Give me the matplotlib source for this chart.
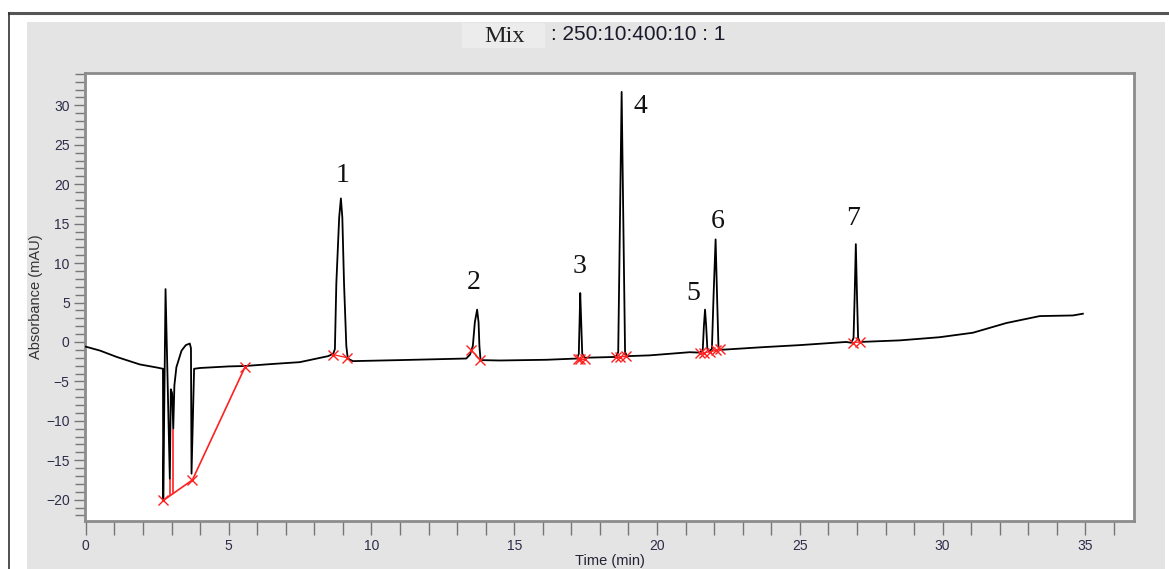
import numpy as np
import matplotlib
matplotlib.use("Agg")
import matplotlib.pyplot as plt
from matplotlib.ticker import MultipleLocator
from matplotlib.patches import Rectangle
from matplotlib.lines import Line2D

# chromatogram trace (time in min, absorbance in mAU)
time_min = [
    0.00, 0.50, 1.08, 1.89, 2.50, 2.70, 2.71, 2.79, 2.94, 2.975, 3.02, 3.06,
    3.10, 3.17, 3.35, 3.50, 3.64, 3.68, 3.70, 3.79, 4.00, 5.00, 5.57, 6.50,
    7.49, 8.48,
    8.66, 8.72, 8.77, 8.87, 8.93, 8.98, 9.04, 9.12, 9.17,
    9.35, 11.00, 13.32,
    13.45, 13.55, 13.62, 13.70, 13.75, 13.78, 13.82,
    14.49, 16.12, 17.20,
    17.26, 17.29, 17.31, 17.34, 17.38, 17.47,
    18.55, 18.64, 18.70, 18.76, 18.82, 18.88, 18.95,
    19.74, 21.14, 21.50,
    21.60, 21.64, 21.68, 21.72, 21.76, 21.82,
    21.92, 21.98, 22.05, 22.10, 22.15, 22.22,
    23.71, 25.00, 26.62, 26.80,
    26.88, 26.92, 26.96, 27.00, 27.04, 27.10,
    28.50, 29.89, 31.06, 32.23, 33.40, 34.56, 34.91,
]
absorbance = [
    -0.6, -1.1, -1.9, -2.85, -3.25, -3.4, -20.1, 6.7, -17.4, -6.0, -6.5, -11.0,
    -5.5, -3.2, -1.1, -0.4, -0.2, -0.8, -16.7, -3.4, -3.3, -3.1, -3.05, -2.8,
    -2.56, -1.8,
    -1.5, -0.9, 7.4, 15.8, 18.2, 15.8, 7.4, -0.5, -2.1,
    -2.43, -2.3, -2.1,
    -1.6, -0.5, 2.5, 4.1, 2.5, -0.5, -2.3,
    -2.35, -2.26, -2.1,
    -1.5, 3.0, 6.2, 3.0, -1.5, -2.0,
    -1.9, -1.3, 15.0, 31.7, 15.0, -1.3, -1.8,
    -1.7, -1.3, -1.35,
    -1.0, 2.0, 4.1, 2.0, -0.8, -1.2,
    -0.9, 6.0, 13.0, 6.0, -0.6, -1.0,
    -0.66, -0.4, 0.0, -0.1,
    0.5, 6.0, 12.4, 6.0, 0.5, 0.0,
    0.2, 0.6, 1.17, 2.4, 3.28, 3.36, 3.58,
]

# integration marks (red x) and baselines
marks_t = [2.71, 3.73, 5.57, 8.66, 9.15, 13.50, 13.81, 17.23, 17.30, 17.47,
           18.57, 18.70, 18.90, 21.49, 21.66, 21.86, 22.07, 22.19, 26.86, 27.09]
marks_y = [-20.1, -17.5, -3.2, -1.6, -2.0, -1.08, -2.26, -2.1, -2.1, -2.1,
           -1.9, -1.9, -1.84, -1.35, -1.35, -1.25, -1.05, -0.95, -0.1, 0.0]
solvent_base_t = [2.71, 3.73, 5.57]
solvent_base_y = [-20.1, -17.5, -3.2]
drop_t = [2.94, 3.06]
drop_lo = [-19.54, -19.23]
drop_hi = [-17.4, -11.0]

peak_names = ["1", "2", "3", "4", "5", "6", "7"]
label_t = [9.00, 13.58, 17.29, 19.40, 21.28, 22.12, 26.85]
label_y = [21.1, 7.6, 9.6, 29.8, 6.2, 15.3, 15.7]

W, H = 1169, 569
fig = plt.figure(figsize=(W / 100, H / 100), dpi=100)
fig.patch.set_facecolor("white")

# gray panel, title box and dark frame lines
fig.patches.append(Rectangle((27 / W, 0), (1165 - 27) / W, (H - 22) / H,
                             transform=fig.transFigure, facecolor="#e4e4e4",
                             edgecolor="none", zorder=-3))
fig.patches.append(Rectangle((462 / W, 1 - 48 / H), 83 / W, 25 / H,
                             transform=fig.transFigure, facecolor="#ececec",
                             edgecolor="none", zorder=-2))
fig.lines.append(Line2D([9 / W, 1], [1 - 13 / H, 1 - 13 / H], transform=fig.transFigure,
                        color="#555555", lw=2.2, zorder=-1))
fig.lines.append(Line2D([9 / W, 9 / W], [0, 1 - 13 / H], transform=fig.transFigure,
                        color="#333333", lw=1.2, zorder=-1))

ax = fig.add_axes([85 / W, (H - 521) / H, (1134 - 85) / W, (521 - 73) / H])
ax.set_zorder(2)
ax.set_facecolor("white")

ax.plot(time_min, absorbance, color="black", lw=1.3, zorder=3)
ax.plot(solvent_base_t, solvent_base_y, color="#ff2020", lw=1.2, zorder=4)
ax.vlines(drop_t, drop_lo, drop_hi, color="#ff2020", lw=1.2, zorder=4)
for i in range(3, len(marks_t) - 1):
    if marks_t[i + 1] - marks_t[i] < 0.6:
        ax.plot(marks_t[i:i + 2], marks_y[i:i + 2], color="#ff2020", lw=0.9, zorder=4)
ax.plot(marks_t, marks_y, ls="none", marker="x", ms=7, mew=1.0, color="#ff2020", zorder=5)

for name, tx, ty in zip(peak_names, label_t, label_y):
    ax.text(tx, ty, name, ha="center", va="center", fontsize=20,
            family="Liberation Serif", color="#111111")

ax.set_xlim(-0.03, 36.7)
ax.set_ylim(-22.7, 34.1)
ax.xaxis.set_major_locator(MultipleLocator(5))
ax.xaxis.set_minor_locator(MultipleLocator(1))
ax.yaxis.set_major_locator(MultipleLocator(5))
ax.yaxis.set_minor_locator(MultipleLocator(1))
ax.tick_params(axis="both", which="both", direction="out", color="#777777", width=1.0)
ax.tick_params(axis="x", which="both", length=10, labelsize=10, pad=3, labelcolor="#2d2d4a")
ax.tick_params(axis="y", which="major", length=8, labelsize=10, pad=3, labelcolor="#2d2d4a")
ax.tick_params(axis="y", which="minor", length=7)
for lab in ax.get_xticklabels() + ax.get_yticklabels():
    lab.set_family("Liberation Sans")
for s in ax.spines.values():
    s.set_color("#8c8c8c")
    s.set_linewidth(2)

ax.set_xlabel("Time (min)", fontsize=10.5, family="Liberation Sans", color="#222233", labelpad=1)
ax.set_ylabel("Absorbance (mAU)", fontsize=10.5, family="Liberation Sans", color="#333333", labelpad=2)

fig.text(505 / W, 1 - 37 / H, "Mix", ha="center", va="center", fontsize=17.5,
         family="Liberation Serif", color="#222222")
fig.text(551 / W, 1 - 35 / H, ": 250:10:400:10 : 1", ha="left", va="center", fontsize=15,
         family="Liberation Sans", color="#1a1a2a")

fig.savefig("out.png", dpi=100, facecolor=fig.get_facecolor())
